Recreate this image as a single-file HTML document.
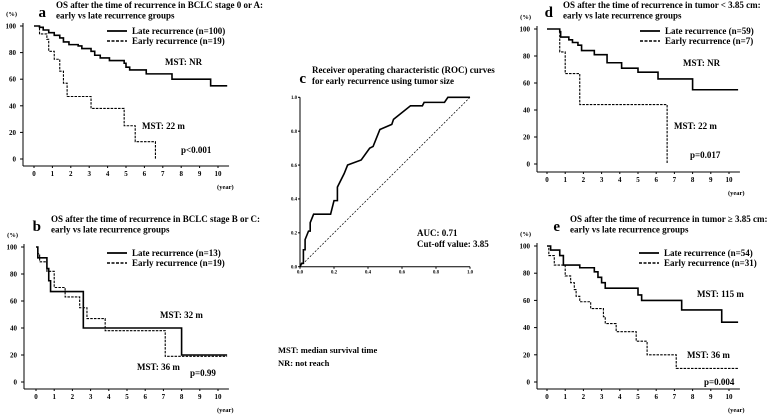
<!DOCTYPE html>
<html><head><meta charset="utf-8"><style>
body{margin:0;background:#fff;}
svg{display:block;font-family:"Liberation Serif",serif;font-weight:bold;}
</style></head><body>
<svg id="s" width="777" height="415" viewBox="0 0 777 415"></svg>
<script>
const yTicks=[0,20,40,60,80,100];
const xTicks=[0,1,2,3,4,5,6,7,8,9,10];
const aLate=[[0.3,99],[0.5,97],[0.8,95],[1.1,93],[1.4,91],[1.6,88],[1.9,86],[2.4,85],[2.6,83],[3.1,81],[3.3,78],[3.6,76],[4.1,74],[4.9,72],[5,69],[5.2,67],[6.1,64],[7.5,60],[9.6,55],[10.5,55]];
const aEarly=[[0.3,94],[0.7,90],[0.8,81],[1.1,75],[1.4,66],[1.6,57],[1.8,47],[3.1,38],[4.9,25],[5.5,13],[6.6,0]];
const bLate=[[0.1,92],[0.6,84],[0.7,75],[0.8,67],[2.6,40],[8,20],[10.5,20]];
const bEarly=[[0.1,95],[0.2,89],[0.6,82],[1,70],[1.6,63],[2.4,55],[2.8,47],[3.8,38],[7.1,19],[10.5,19]];
const dLate=[[0.7,98],[0.75,94],[1.2,92],[1.4,90],[1.7,88],[1.9,84],[2.6,81],[3.3,75],[4.1,71],[5,68],[6.1,63],[8,55],[10.5,55]];
const dEarly=[[0.7,83],[1,67],[1.8,44],[6.6,0]];
const eLate=[[0.2,97],[0.7,93],[0.9,86],[1.8,84],[2.6,81],[2.8,77],[3,73],[3.2,69],[5,64],[5.2,60],[7.4,53],[9.6,44],[10.5,44]];
const eEarly=[[0.1,93],[0.4,86],[1,78],[1.3,73],[1.5,68],[1.6,63],[1.8,59],[2.4,54],[3.1,48],[3.2,43],[3.8,37],[4.9,30],[5.5,20],[7.1,10],[10.5,10]];
const rocX=[0,0.01,0.02,0.02,0.03,0.03,0.05,0.06,0.06,0.08,0.18,0.2,0.22,0.22,0.26,0.28,0.36,0.41,0.43,0.47,0.54,0.55,0.65,0.72,0.73,0.85,0.87,1];
const rocY=[0,0.02,0.02,0.1,0.1,0.16,0.21,0.21,0.26,0.31,0.31,0.39,0.39,0.47,0.55,0.6,0.63,0.7,0.71,0.81,0.84,0.87,0.95,0.95,0.97,0.97,1,1];
const rocTicks=[0,0.2,0.4,0.6,0.8,1.0];
const NS='http://www.w3.org/2000/svg';
const svg=document.getElementById('s');
function el(t,a,p){const e=document.createElementNS(NS,t);for(const k in a)e.setAttribute(k,a[k]);(p||svg).appendChild(e);return e;}
function txt(x,y,s,size,anchor,name,p){const e=el('text',{x:x,y:y,'font-size':size,'text-anchor':anchor||'start'},p);e.textContent=s;


return e;}
function km(P){
 const g=el('g',{});
 
 
 const X=v=>P.x0+(P.x10-P.x0)*v/10, Y=v=>P.y0+(P.y100-P.y0)*v/100;
 el('line',{x1:P.ax,y1:Y(100)-3,x2:P.ax,y2:P.axY,stroke:'#000','stroke-width':1},g);
 el('line',{x1:P.ax,y1:P.axY,x2:X(10.6),y2:P.axY,stroke:'#000','stroke-width':1},g);
 yTicks.forEach(t=>{el('line',{x1:P.ax-3,y1:Y(t),x2:P.ax,y2:Y(t),stroke:'#000'},g);txt(P.ax-7,Y(t)+2.5,String(t),7,'end','y-tick-label',g);});
 xTicks.forEach(t=>{el('line',{x1:X(t),y1:P.axY,x2:X(t),y2:P.axY+2,stroke:'#000'},g);txt(X(t),P.axY+10,String(t),7,'middle','x-tick-label',g);});
 txt(P.ax-6,P.y100-10,'(%)',6.5,'end','y-unit',g);
 txt(X(10.4),P.axY+23,'(year)',6.5,'middle','x-unit',g);
 function path(d,dash,name){let s='M'+X(0)+','+Y(100);let py=100;d.forEach(p=>{s+=' L'+X(p[0])+','+Y(py)+' L'+X(p[0])+','+Y(p[1]);py=p[1];});
  const e=el('path',{d:s,fill:'none',stroke:'#000','stroke-width':dash?1.1:1.6,'stroke-dasharray':dash?'2.5,1.2':'none'},g);
  
  }
 path(P.late,false,'late-recurrence-curve');
 path(P.early,true,'early-recurrence-curve');
 el('line',{x1:P.lgx,y1:P.lgy,x2:P.lgx+20,y2:P.lgy,stroke:'#000','stroke-width':1.8},g);
 txt(P.lgx+25,P.lgy+3,P.l1,9,'start','legend-late',g);
 el('line',{x1:P.lgx,y1:P.lgy+10,x2:P.lgx+20,y2:P.lgy+10,stroke:'#000','stroke-width':1.4,'stroke-dasharray':'3,1.5'},g);
 txt(P.lgx+25,P.lgy+13,P.l2,9,'start','legend-early',g);
 txt(P.tx-10,P.ty+9,P.id,15,'end','panel-letter',g);
 txt(P.tx,P.ty,P.t1,9,'start','panel-title',g);
 txt(P.tx,P.ty+10.5,'early vs late recurrence groups',9,'start','panel-title-2',g);
 P.notes.forEach(n=>txt(n[0],n[1],n[2],9,'start','annotation',g));
}
km({id:'a',x0:34,x10:218,y0:159,y100:26,ax:23,axY:166,late:aLate,early:aEarly,lgx:107,lgy:31,l1:'Late recurrence (n=100)',l2:'Early recurrence (n=19)',tx:56,ty:8,t1:'OS after the time of recurrence in BCLC stage 0 or A:',notes:[[165,65,'MST: NR'],[142,129,'MST: 22 m'],[181,153,'p<0.001']]});
km({id:'b',x0:36,x10:218,y0:382,y100:247,ax:24,axY:389,late:bLate,early:bEarly,lgx:107,lgy:253,l1:'Late recurrence (n=13)',l2:'Early recurrence (n=19)',tx:51,ty:222,t1:'OS after the time of recurrence in BCLC stage B or C:',notes:[[160,318,'MST: 32 m'],[137,370,'MST: 36 m'],[190,376,'p=0.99']]});
km({id:'d',x0:547,x10:729,y0:164,y100:29,ax:537,axY:172,late:dLate,early:dEarly,lgx:640,lgy:31,l1:'Late recurrence (n=59)',l2:'Early recurrence (n=7)',tx:563,ty:8,t1:'OS after the time of recurrence in tumor < 3.85 cm:',notes:[[683,66,'MST: NR'],[674,129,'MST: 22 m'],[690,158,'p=0.017']]});
km({id:'e',x0:547,x10:729,y0:382,y100:246,ax:537,axY:389,late:eLate,early:eEarly,lgx:639,lgy:253,l1:'Late recurrence (n=54)',l2:'Early recurrence (n=31)',tx:570,ty:222,t1:'OS after the time of recurrence in tumor \u2265 3.85 cm:',notes:[[697,297,'MST: 115 m'],[687,358,'MST: 36 m'],[704,385,'p=0.004']]});
(function(){
 const g=el('g',{});
 
 
 const X=v=>300+170*v, Y=v=>266.7-169.4*v;
 el('line',{x1:X(0),y1:Y(0),x2:X(0),y2:Y(1),stroke:'#000'},g);
 el('line',{x1:X(0),y1:Y(0),x2:X(1),y2:Y(0),stroke:'#000'},g);
 rocTicks.forEach(t=>{el('line',{x1:X(0)-2,y1:Y(t),x2:X(0),y2:Y(t),stroke:'#000'},g);txt(X(0)-3,Y(t)+1.7,t.toFixed(1),4.8,'end','y-tick-label',g);
  el('line',{x1:X(t),y1:Y(0),x2:X(t),y2:Y(0)+2,stroke:'#000'},g);txt(X(t),Y(0)+7,t.toFixed(1),4.8,'middle','x-tick-label',g);});
 el('line',{x1:X(0),y1:Y(0),x2:X(1),y2:Y(1),stroke:'#000','stroke-width':0.7,'stroke-dasharray':'2,1.5'},g);
 const d=rocX.map((x,i)=>(i?'L':'M')+X(x)+','+Y(rocY[i])).join(' ');
 const p=el('path',{d:d,fill:'none',stroke:'#000','stroke-width':1.6},g);
 
 
 txt(306,83,'c',15,'end','panel-letter',g);
 txt(312,73,'Receiver operating characteristic (ROC) curves',9,'start','panel-title',g);
 txt(312,84,'for early recurrence using tumor size',9,'start','panel-title-2',g);
 txt(417,236,'AUC: 0.71',9,'start','auc-label',g);
 txt(417,247,'Cut-off value: 3.85',9,'start','cutoff-label',g);
})();
txt(278,353,'MST: median survival time',8.5,'start','footnote-mst');
txt(278,366,'NR: not reach',8.5,'start','footnote-nr');
</script>
</body></html>
